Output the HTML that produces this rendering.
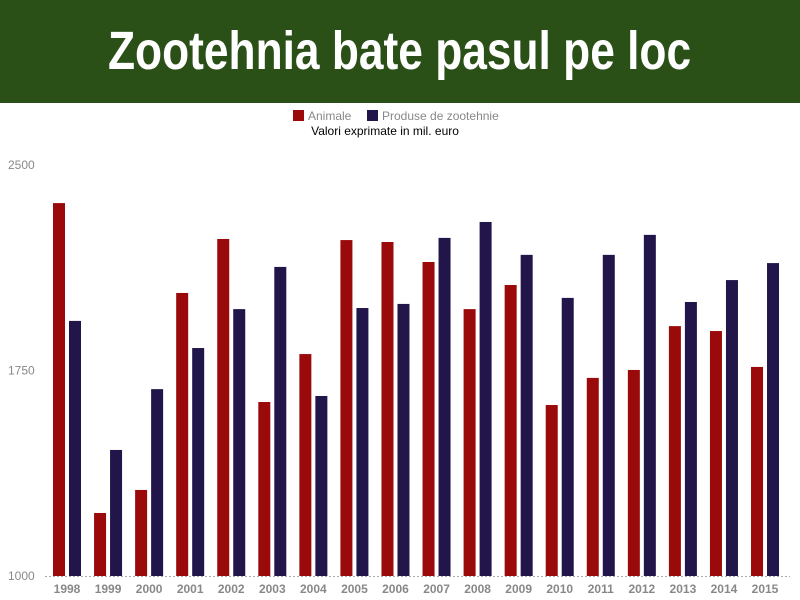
<!DOCTYPE html>
<html><head><meta charset="utf-8"><style>
body{margin:0;width:800px;height:600px;background:#fff;font-family:"Liberation Sans",sans-serif;overflow:hidden;position:relative}
#hdr{position:absolute;left:0;top:0;width:800px;height:103px;background:#2a5017}
#title{position:absolute;left:0;top:18px;width:800px;text-align:center;color:#fff;font-weight:bold;font-size:54px;line-height:66px;}
#title span{display:inline-block;transform:scaleX(0.82);letter-spacing:0px}
</style></head><body>
<div id="hdr"></div>
<div id="title"><span>Zootehnia bate pasul pe loc</span></div>
<svg id="chart" width="800" height="600" style="position:absolute;left:0;top:0"></svg>
<script>
const categories=["1998","1999","2000","2001","2002","2003","2004","2005","2006","2007","2008","2009","2010","2011","2012","2013","2014","2015"];
const animale=[2361,1230,1314,2033,2230,1635,1810,2226,2219,2146,1974,2062,1624,1723,1752,1912,1894,1763];
const produse=[1931,1460,1682,1832,1974,2128,1657,1978,1993,2234,2292,2172,2015,2172,2245,2000,2080,2142];
const yTicks=[1000,1750,2500];
const NS="http://www.w3.org/2000/svg";
const svg=document.getElementById('chart');
const y=v=>576-(v-1000)*(411/1500);
const x=i=>67+i*41.06;
function mk(t,a){const e=document.createElementNS(NS,t);for(const k in a)e.setAttribute(k,a[k]);svg.appendChild(e);return e;}
const ax=mk('line',{x1:45,x2:790,y1:576.5,y2:576.5,stroke:'#aaa','stroke-dasharray':'2,2'});


yTicks.forEach(v=>{const t=mk('text',{x:8,y:y(v)+4,'font-size':12,fill:'#888'});t.textContent=v;

});
categories.forEach((c,i)=>{
const a=mk('rect',{x:x(i)-14,width:12,y:y(animale[i]),height:576-y(animale[i]),fill:'#9b0a0a'});


const p=mk('rect',{x:x(i)+2,width:12,y:y(produse[i]),height:576-y(produse[i]),fill:'#21154a'});


const t=mk('text',{x:x(i),y:593,'font-size':12,fill:'#888','text-anchor':'middle','font-weight':'bold'});t.textContent=c;


});
const l1=mk('rect',{x:293,y:110,width:11,height:11,fill:'#9b0a0a'});


const t1=mk('text',{x:308,y:120,'font-size':12,fill:'#888'});t1.textContent='Animale';


const l2=mk('rect',{x:367,y:110,width:11,height:11,fill:'#21154a'});


const t2=mk('text',{x:382,y:120,'font-size':12,fill:'#888'});t2.textContent='Produse de zootehnie';


const st=mk('text',{x:385,y:135,'font-size':12,fill:'#000','text-anchor':'middle'});st.textContent='Valori exprimate in mil. euro';


</script>
</body></html>
